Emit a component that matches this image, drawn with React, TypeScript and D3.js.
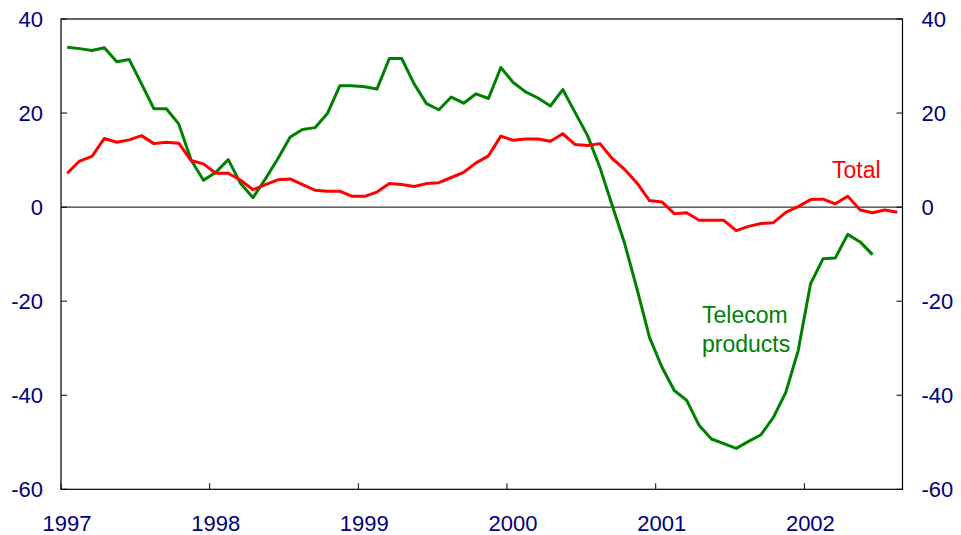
import * as d3 from "d3";

// monthly, Jan 1997 onwards (year-ended % change)
const total = [
  7.2, 9.8, 10.8, 14.6, 13.8, 14.3, 15.2, 13.5, 13.8, 13.6,
  9.9, 9.2, 7.2, 7.2, 5.7, 3.7, 4.8, 5.8, 6.0, 4.8,
  3.6, 3.4, 3.4, 2.3, 2.3, 3.2, 5.0, 4.8, 4.4, 5.0,
  5.2, 6.3, 7.4, 9.4, 10.9, 15.1, 14.2, 14.5, 14.5, 14.0,
  15.6, 13.3, 13.1, 13.5, 10.3, 8.0, 5.1, 1.4, 1.1, -1.4,
  -1.2, -2.8, -2.8, -2.8, -5.0, -4.1, -3.5, -3.3, -1.1, 0.1,
  1.6, 1.7, 0.7, 2.3, -0.6, -1.2, -0.6, -1.1,
];

const telecom = [
  34.0, 33.7, 33.3, 33.9, 30.9, 31.4, 26.2, 20.9, 20.9, 17.7,
  10.0, 5.7, 7.4, 10.1, 5.0, 2.0, 6.0, 10.3, 14.9, 16.5,
  16.9, 19.9, 25.8, 25.8, 25.6, 25.1, 31.6, 31.6, 26.2, 22.0,
  20.7, 23.4, 22.1, 24.1, 23.1, 29.7, 26.5, 24.5, 23.2, 21.5,
  25.0, 20.1, 15.2, 8.4, 0.3, -7.8, -17.5, -27.7, -34.0, -39.0,
  -41.1, -46.4, -49.3, -50.3, -51.3, -49.8, -48.4, -44.7, -39.4, -30.5,
  -16.3, -11.0, -10.8, -5.8, -7.4, -10.1,
];

const years = [1997, 1998, 1999, 2000, 2001, 2002];
const yTicks = [40, 20, 0, -20, -40, -60];

const width = 961;
const height = 535;
const left = 61;
const right = 902.5;
const top = 19;
const bottom = 489.3;

const font = "'Liberation Sans', Arial, sans-serif";
const navy = "#000080";

export default function App() {
  const x = d3.scaleLinear([1997, 2002.66], [left, right]);
  const y = d3.scaleLinear([-60, 40], [bottom, top]);

  // points sit mid-month
  const line = d3
    .line<number>()
    .x((_, i) => x(1997 + (i + 0.5) / 12))
    .y((d) => y(d));

  return (
    <svg
      width={width}
      height={height}
      style={{ position: "absolute", left: 0, top: 0, background: "#fff" }}
      fontFamily={font}
    >
      <rect x={left} y={top} width={right - left} height={bottom - top} fill="none" stroke="#000" strokeWidth={1.2} />
      <line x1={left} x2={right} y1={y(0)} y2={y(0)} stroke="#000" strokeWidth={1} />

      {yTicks.map((t) => (
        <g key={t}>
          <line x1={left} x2={left + 6} y1={y(t)} y2={y(t)} stroke="#000" />
          <line x1={right - 6} x2={right} y1={y(t)} y2={y(t)} stroke="#000" />
          <text x={left - 18} y={y(t) + 8} textAnchor="end" fontSize={22} fill={navy}>
            {t}
          </text>
          <text x={right + 19} y={y(t) + 8} textAnchor="start" fontSize={22} fill={navy}>
            {t}
          </text>
        </g>
      ))}

      {years.map((yr) => (
        <g key={yr}>
          <line x1={x(yr)} x2={x(yr)} y1={bottom} y2={bottom - 6} stroke="#000" />
          <text x={x(yr) + 6} y={531} textAnchor="middle" fontSize={22} fill={navy}>
            {yr}
          </text>
        </g>
      ))}

      <path d={line(telecom) as string} fill="none" stroke="#008000" strokeWidth={3} strokeLinejoin="round" />
      <path d={line(total) as string} fill="none" stroke="#ff0000" strokeWidth={3} strokeLinejoin="round" />

      <text x={832} y={178} fontSize={23} fill="#ff0000">Total</text>
      <text x={702} y={323} fontSize={23} fill="#008000">Telecom</text>
      <text x={702} y={352} fontSize={23} fill="#008000">products</text>
    </svg>
  );
}
